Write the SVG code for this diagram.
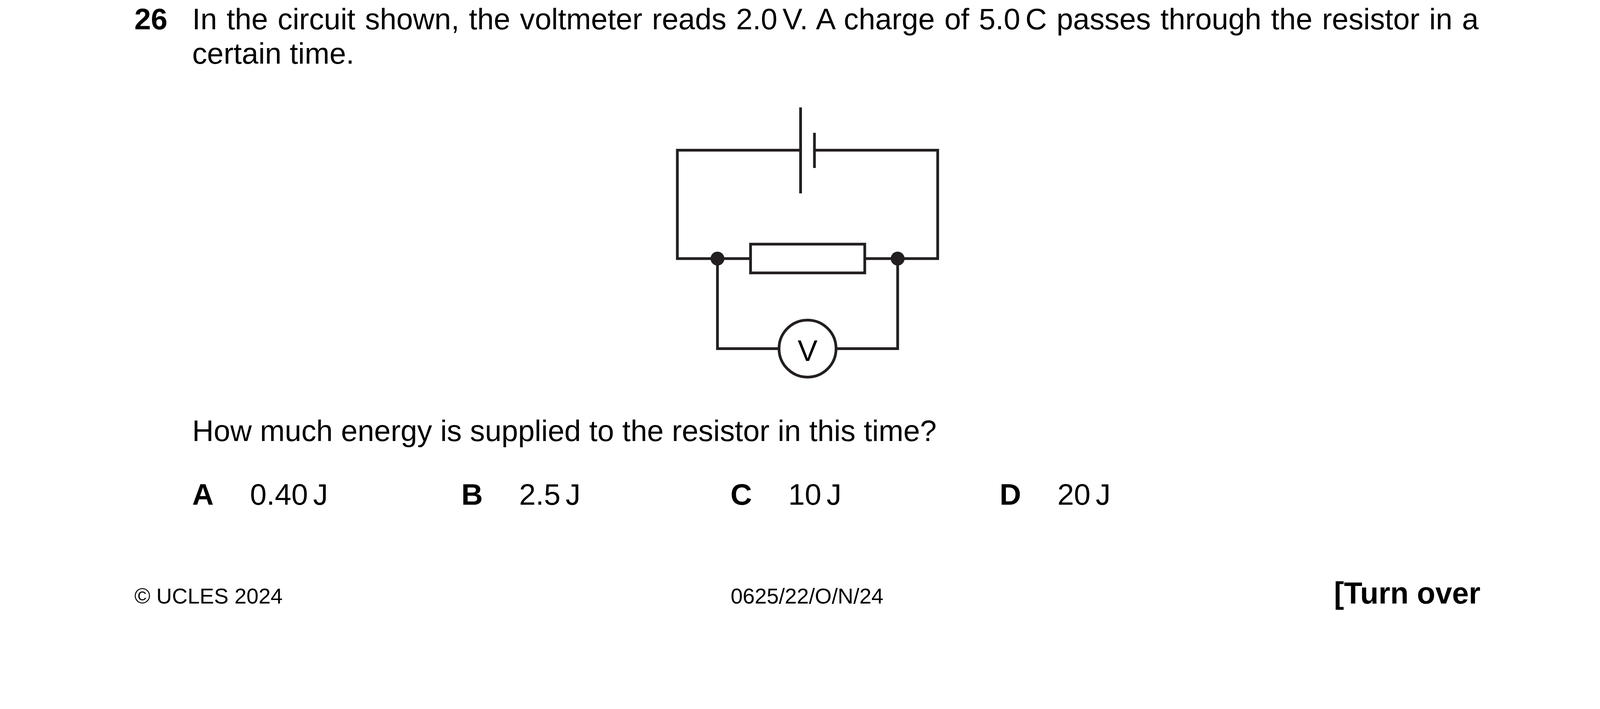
<svg xmlns="http://www.w3.org/2000/svg" width="4132" height="1815" viewBox="0 0 4132 1815">
<style>
text{font-family:"Liberation Sans",Arial,sans-serif;fill:#000;font-size:76.2px}
.b{font-weight:700}
.n{word-spacing:-8px}
.f{font-size:55.4px}
.w{fill:none;stroke:#231f20;stroke-width:7}
.d{fill:#231f20}
</style>
<rect width="4132" height="1815" fill="#fff"/>
<g id="question">
<text class="b" x="344" y="75">26</text>
<text x="492" y="75" style="word-spacing:3.5px">In the circuit shown, the voltmeter reads <tspan class="n">2.0 V.</tspan> A charge of <tspan class="n">5.0 C</tspan> passes through the resistor in a</text>
<text x="492" y="163">certain time.</text>
<text x="492" y="1129">How much energy is supplied to the resistor in this time?</text>
</g>
<g id="connectors">
<path class="w" d="M2049.5 384.4H1734V662H1921.4M2213.8 662H2400.5V384.4H2085M1836.7 662V892.4H1994.3M2298 662V892.4H2140.3"/>
</g>
<g id="cell"><path class="w" d="M2049.5 275V495M2085 340V430"/></g>
<g id="resistor"><rect class="w" x="1921.4" y="625" width="292.4" height="73.6"/></g>
<g id="junction-left"><circle class="d" cx="1836.7" cy="662" r="17.8"/></g>
<g id="junction-right"><circle class="d" cx="2298" cy="662" r="17.8"/></g>
<g id="voltmeter"><circle class="w" cx="2067.3" cy="892.4" r="73"/><text x="2067.3" y="923.5" text-anchor="middle">V</text></g>
<g id="options">
<text class="b" x="492" y="1292">A</text><text class="n" x="640" y="1292">0.40 J</text>
<text class="b" x="1181" y="1292">B</text><text class="n" x="1329" y="1292">2.5 J</text>
<text class="b" x="1870" y="1292">C</text><text class="n" x="2018" y="1292">10 J</text>
<text class="b" x="2559" y="1292">D</text><text class="n" x="2707" y="1292">20 J</text>
</g>
<g id="footer">
<text class="f" x="344" y="1545">© UCLES 2024</text>
<text class="f" x="2066" y="1545" text-anchor="middle">0625/22/O/N/24</text>
<text class="b" x="3790" y="1545" text-anchor="end" style="font-size:77px">[Turn over</text>
</g>
</svg>
